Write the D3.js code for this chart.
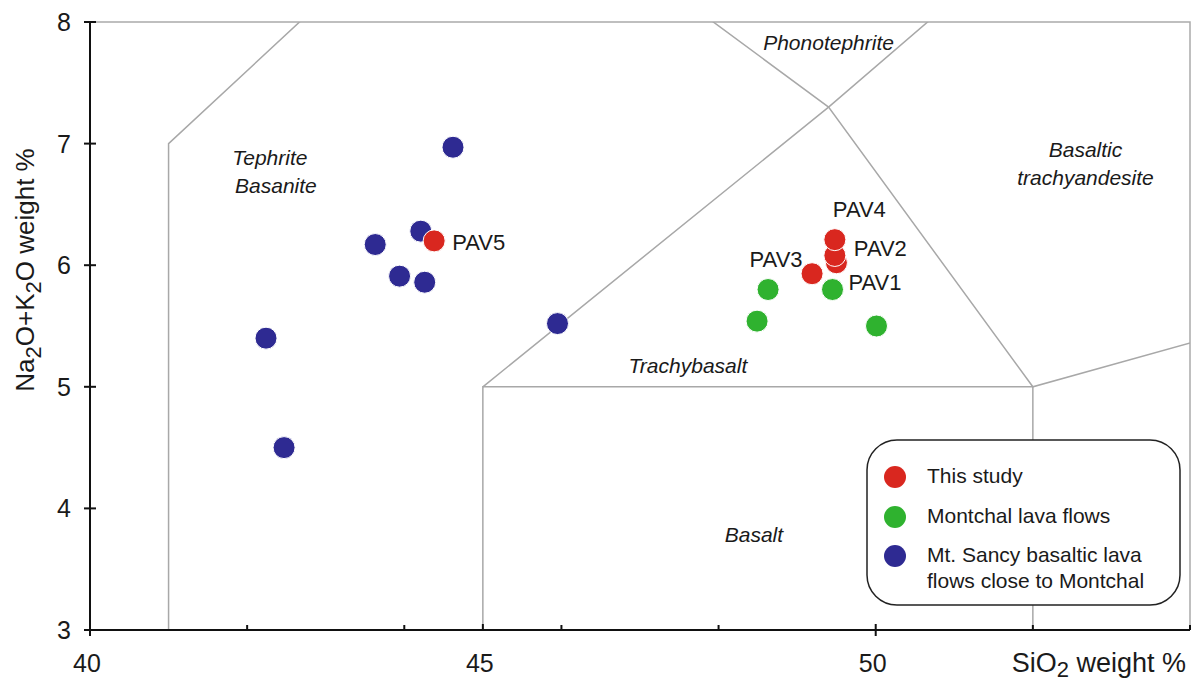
<!DOCTYPE html>
<meta charset="utf-8">
<script src="https://d3js.org/d3.v7.min.js"></script>
<style>
  body { margin: 0; background: #fff; }
  text { font-family: "Liberation Sans", Arial, Helvetica, sans-serif; fill: #1a1a1a; }
</style>
<div id="my_dataviz"></div>
<script>

// samples (SiO2, Na2O+K2O)
const sancyX = [44.62, 44.21, 43.63, 43.94, 44.26, 45.95, 42.24, 42.47];
const sancyY = [6.97, 6.28, 6.17, 5.91, 5.86, 5.52, 5.40, 4.50];
const montchalX = [48.63, 49.45, 48.49, 50.01];
const montchalY = [5.80, 5.80, 5.54, 5.50];
const studyNames = ["PAV5", "PAV3", "PAV1", "PAV2", "PAV4"];
const studyX = [44.38, 49.19, 49.50, 49.48, 49.48];
const studyY = [6.20, 5.93, 6.02, 6.08, 6.21];

// TAS field boundaries
const boundaries = [
  [[41, 3], [41, 7], [45, 9.4]],
  [[45, 3], [45, 5], [52, 5], [52, 3]],
  [[45, 5], [49.4, 7.3], [53, 9.3]],
  [[45, 9.4], [49.4, 7.3], [52, 5], [57, 5.9]]
];
const fieldNames = [
  {lines: ["Tephrite", "Basanite"], x: 42.29, y: 6.82, dx: [0, 6]},
  {lines: ["Phonotephrite"], x: 49.40, y: 7.77, dx: [0]},
  {lines: ["Basaltic", "trachyandesite"], x: 52.67, y: 6.89, dx: [0, 0]},
  {lines: ["Trachybasalt"], x: 47.61, y: 5.11, dx: [0]},
  {lines: ["Basalt"], x: 48.45, y: 3.72, dx: [0]}
];
const xTicks = [40, 45, 50];
const xMinor = [42, 44, 46, 48, 52, 54];
const yTicks = [3, 4, 5, 6, 7, 8];

const legendItems = [
  {color: "#d9271f", lines: ["This study"]},
  {color: "#2fb22f", lines: ["Montchal lava flows"]},
  {color: "#2e2a92", lines: ["Mt. Sancy basaltic lava", "flows close to Montchal"]}
];

const W = 1198, H = 684;
const svg = d3.select("#my_dataviz").append("svg")
    .attr("width", W).attr("height", H);

const x = d3.scaleLinear().domain([40, 54]).range([90, 1190]);
const y = d3.scaleLinear().domain([3, 8]).range([630, 22]);

svg.append("clipPath").attr("id", "plotclip")
  .append("rect")
    .attr("x", x(40)).attr("y", y(8))
    .attr("width", x(54) - x(40)).attr("height", y(3) - y(8));

// frame top / right
svg.append("path")
    .attr("d", `M${x(40)},${y(8)}H${x(54)}V${y(3)}`)
    .attr("fill", "none").attr("stroke", "#aaa").attr("stroke-width", 1.5);

// field boundaries
const line = d3.line().x(d => x(d[0])).y(d => y(d[1]));
svg.append("g").attr("clip-path", "url(#plotclip)")
  .selectAll("path").data(boundaries).join("path")
    .attr("d", line)
    .attr("fill", "none").attr("stroke", "#a8a8a8").attr("stroke-width", 1.5);

// field names
fieldNames.forEach(f => {
  const t = svg.append("text")
      .attr("x", x(f.x)).attr("y", y(f.y))
      .attr("text-anchor", "middle")
      .style("font-size", "21px").style("font-style", "italic");
  f.lines.forEach((l, i) => {
    t.append("tspan").attr("x", x(f.x) + f.dx[i]).attr("dy", i ? 28 : 0).text(l);
  });
});

// axes
const xAxis = svg.append("g");
xAxis.append("line").attr("x1", x(40)).attr("x2", x(54)).attr("y1", y(3)).attr("y2", y(3))
    .attr("stroke", "#111").attr("stroke-width", 2);
xAxis.selectAll(".maj").data(xTicks).join("line")
    .attr("x1", d => x(d)).attr("x2", d => x(d))
    .attr("y1", y(3) - 6).attr("y2", d => d === 45 ? y(3) : y(3) + 6)
    .attr("stroke", "#111").attr("stroke-width", 2);
xAxis.selectAll(".min").data(xMinor).join("line")
    .attr("x1", d => x(d)).attr("x2", d => x(d))
    .attr("y1", y(3) - 5).attr("y2", y(3))
    .attr("stroke", "#111").attr("stroke-width", 2);
xAxis.selectAll("text").data(xTicks).join("text")
    .attr("x", d => x(d) - 3).attr("y", 672)
    .attr("text-anchor", "middle").style("font-size", "25px")
    .text(d => d);

const yAxis = svg.append("g");
yAxis.append("line").attr("x1", x(40)).attr("x2", x(40)).attr("y1", y(3)).attr("y2", y(8))
    .attr("stroke", "#111").attr("stroke-width", 2);
yAxis.selectAll("line.t").data(yTicks).join("line").attr("class", "t")
    .attr("x1", x(40) - 6).attr("x2", x(40) + 6)
    .attr("y1", d => y(d)).attr("y2", d => y(d))
    .attr("stroke", "#111").attr("stroke-width", 2);
yAxis.selectAll("text").data(yTicks).join("text")
    .attr("x", 71).attr("y", d => y(d) + 9)
    .attr("text-anchor", "end").style("font-size", "25px")
    .text(d => d);

// axis titles
const yt = svg.append("text")
    .attr("transform", "translate(34,270) rotate(-90)")
    .attr("text-anchor", "middle").style("font-size", "26px");
yt.append("tspan").text("Na");
yt.append("tspan").attr("dy", 7).style("font-size", "22px").text("2");
yt.append("tspan").attr("dy", -7).text("O+K");
yt.append("tspan").attr("dy", 7).style("font-size", "22px").text("2");
yt.append("tspan").attr("dy", -7).text("O weight %");

const xt = svg.append("text")
    .attr("x", 1186).attr("y", 672)
    .attr("text-anchor", "end").style("font-size", "27px");
xt.append("tspan").text("SiO");
xt.append("tspan").attr("dy", 5).style("font-size", "22px").text("2");
xt.append("tspan").attr("dy", -5).text(" weight %");

// points
const r = 11;
function dots(xs, ys, color) {
  svg.append("g").selectAll("circle").data(xs).join("circle")
      .attr("cx", d => x(d)).attr("cy", (d, i) => y(ys[i])).attr("r", r)
      .attr("fill", color).attr("stroke", "#fff").attr("stroke-width", 1);
}
dots(sancyX, sancyY, legendItems[2].color);
dots(montchalX, montchalY, legendItems[1].color);
dots(studyX, studyY, legendItems[0].color);

// sample labels
const labelPos = {
  PAV5: {dx: 18, dy: 9, anchor: "start"},
  PAV3: {dx: -36, dy: -7, anchor: "middle"},
  PAV1: {dx: 12, dy: 27, anchor: "start"},
  PAV2: {dx: 19, dy: 1, anchor: "start"},
  PAV4: {dx: -2, dy: -23, anchor: "start"}
};
svg.append("g").selectAll("text").data(studyNames).join("text")
    .attr("x", (d, i) => x(studyX[i]) + labelPos[d].dx)
    .attr("y", (d, i) => y(studyY[i]) + labelPos[d].dy)
    .attr("text-anchor", d => labelPos[d].anchor)
    .style("font-size", "22px")
    .text(d => d);

// legend
const lg = svg.append("g");
lg.append("rect").attr("x", 867).attr("y", 440).attr("width", 313).attr("height", 165)
    .attr("rx", 30).attr("fill", "#fff").attr("stroke", "#222").attr("stroke-width", 1.5);
const rowY = [477, 517, 556];
legendItems.forEach((it, i) => {
  lg.append("circle").attr("cx", 895).attr("cy", rowY[i]).attr("r", 11).attr("fill", it.color);
  it.lines.forEach((l, j) => {
    lg.append("text").attr("x", 927).attr("y", rowY[i] + 6 + j * 26)
        .style("font-size", "21px").text(l);
  });
});
</script>
